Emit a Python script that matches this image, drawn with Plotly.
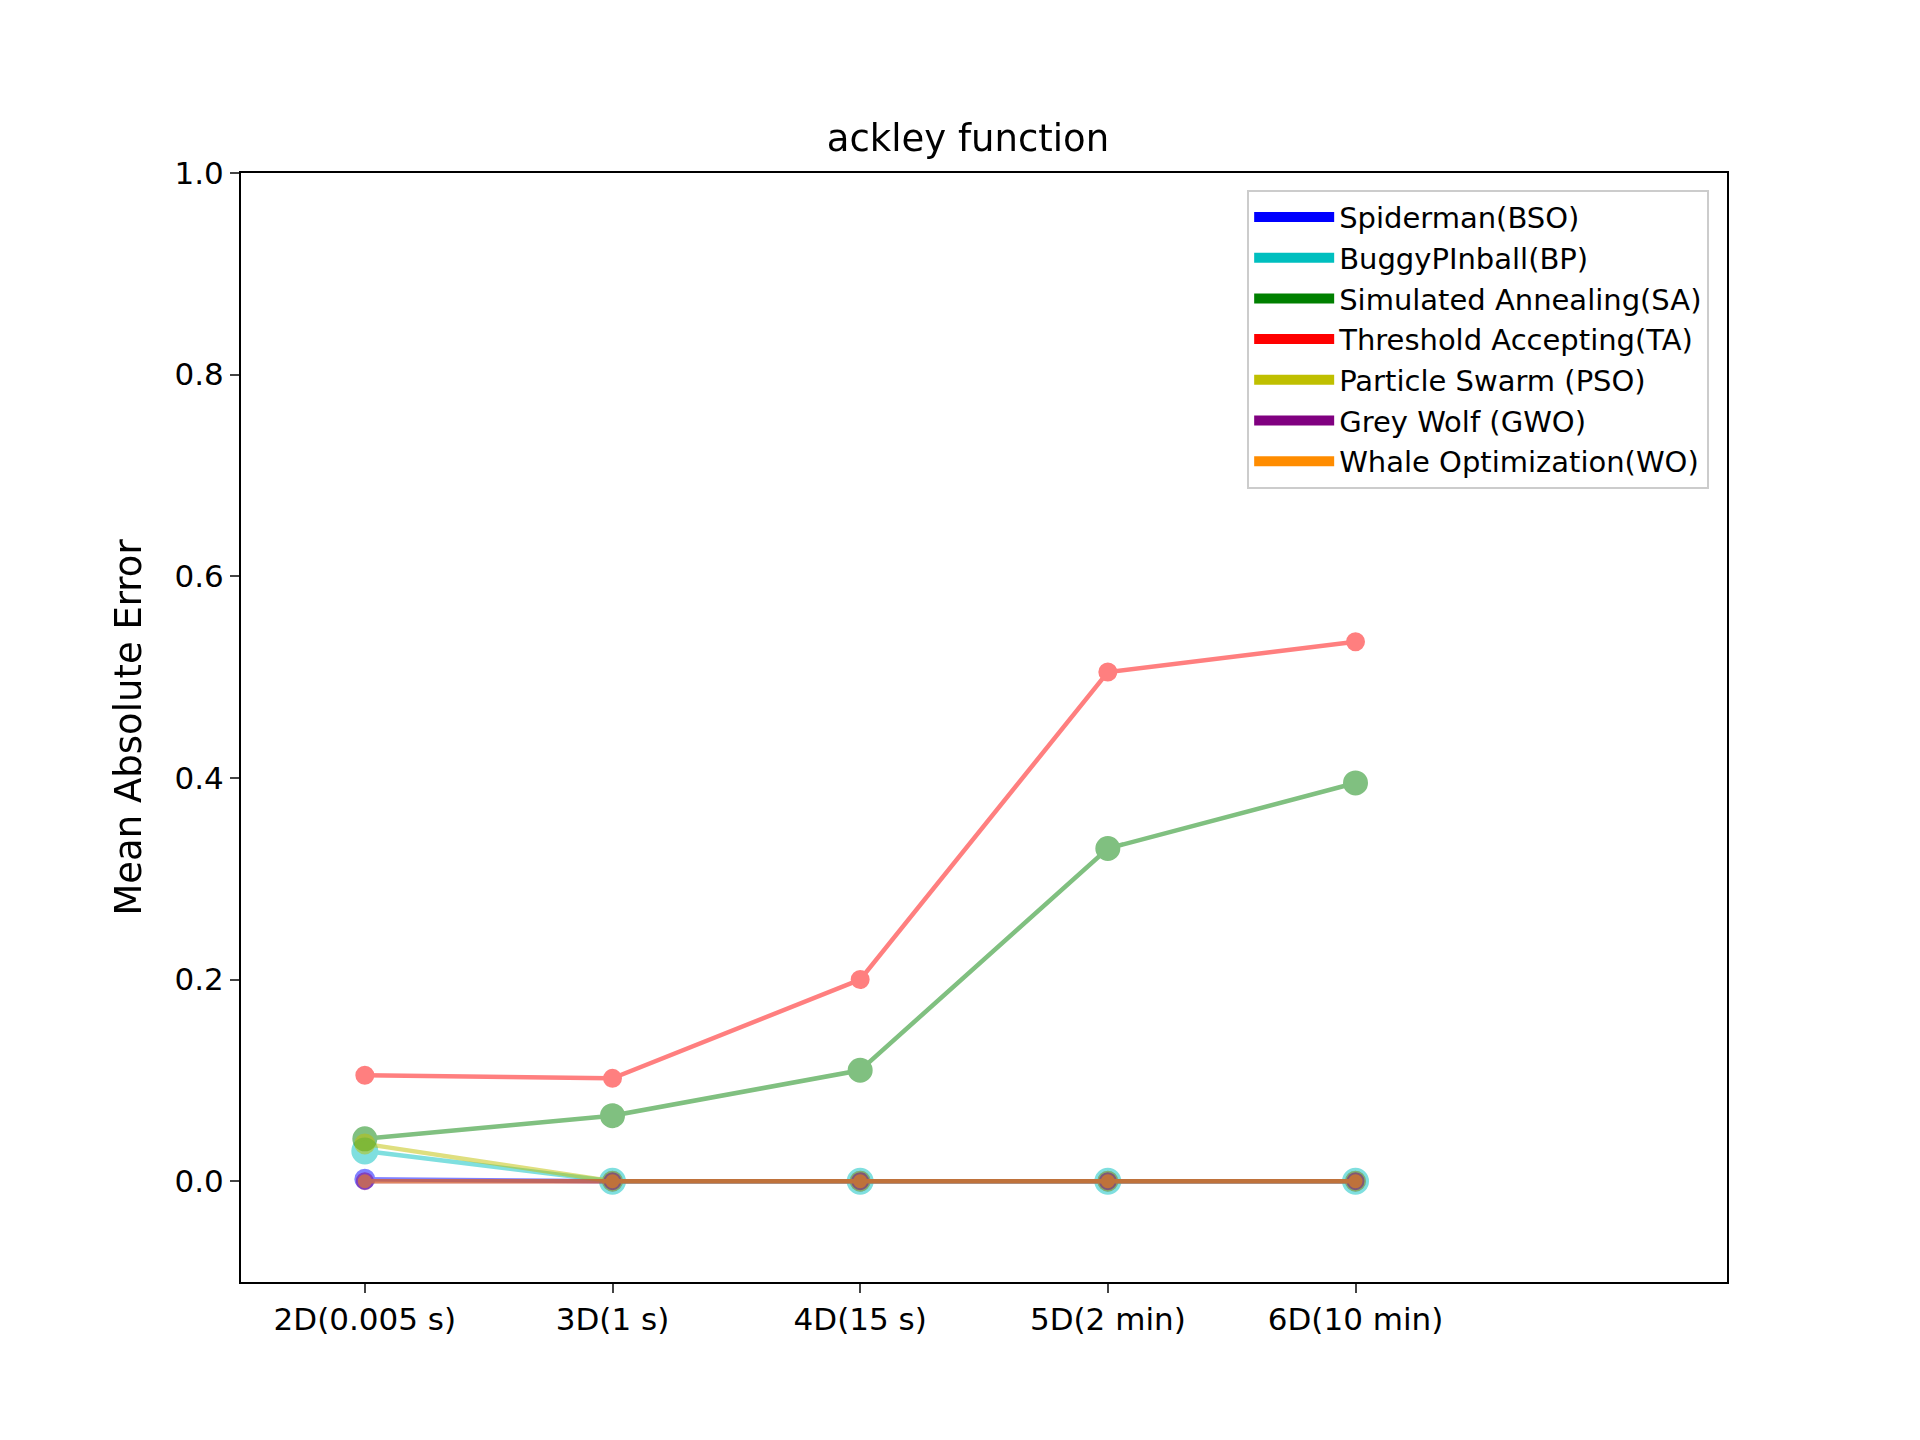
import plotly.graph_objects as go

categories = ['2D(0.005 s)', '3D(1 s)', '4D(15 s)', '5D(2 min)', '6D(10 min)']
names = ['Spiderman(BSO)', 'BuggyPInball(BP)', 'Simulated Annealing(SA)', 'Threshold Accepting(TA)',
         'Particle Swarm (PSO)', 'Grey Wolf (GWO)', 'Whale Optimization(WO)']
colors = ['#0000ff', '#00bfbf', '#008000', '#ff0000', '#bfbf00', '#800080', '#ff8c00']
bso = [0.002, 0.0, 0.0, 0.0, 0.0]
bp = [0.030, 0.0, 0.0, 0.0, 0.0]
sa = [0.042, 0.065, 0.110, 0.330, 0.395]
ta = [0.105, 0.102, 0.200, 0.505, 0.535]
pso = [0.037, 0.0, 0.0, 0.0, 0.0]
gwo = [0.0, 0.0, 0.0, 0.0, 0.0]
wo = [0.0, 0.0, 0.0, 0.0, 0.0]
series = [bso, bp, sa, ta, pso, gwo, wo]
sizes = [18, 24, 22, 16, 18, 15, 11]

xs = list(range(len(categories)))
fig = go.Figure()
for name, col, ys, sz in zip(names, colors, series, sizes):
    fig.add_trace(go.Scatter(
        x=xs, y=ys, mode='lines+markers', name=name, showlegend=False, opacity=0.5,
        line=dict(color=col, width=4.5), marker=dict(color=col, size=sz, line=dict(color=col, width=3))
    ))
# legend swatches
for name, col in zip(names, colors):
    fig.add_trace(go.Scatter(x=[None], y=[None], mode='lines', name=name,
                             line=dict(color=col, width=26)))

fig.update_layout(
    width=1920, height=1440,
    margin=dict(l=233, r=201, t=165, b=166),
    plot_bgcolor='white', paper_bgcolor='white',
    font=dict(family='DejaVu Sans', size=31, color='black'),
    title=dict(text='ackley function', x=0.5, xanchor='center', y=1 - 130 / 1440, yanchor='middle',
               font=dict(size=37)),
    xaxis=dict(range=[-0.5, 5.5], tickvals=xs, ticktext=categories, showgrid=False, zeroline=False,
               showline=True, linecolor='black', linewidth=2, mirror=True,
               ticks='outside', ticklen=9, tickwidth=2),
    yaxis=dict(title=dict(text='Mean Absolute Error', standoff=22), range=[-0.1, 1.0],
               tickvals=[0, 0.2, 0.4, 0.6, 0.8, 1.0], tickformat='.1f', showgrid=False, zeroline=False,
               showline=True, linecolor='black', linewidth=2, mirror=True,
               ticks='outside', ticklen=9, tickwidth=2),
    legend=dict(x=0.988, y=0.985, xanchor='right', yanchor='top', bgcolor='white',
                bordercolor='#cccccc', borderwidth=2, font=dict(size=29), itemwidth=80,
                tracegroupgap=14),
)

fig.write_html("out.html")
